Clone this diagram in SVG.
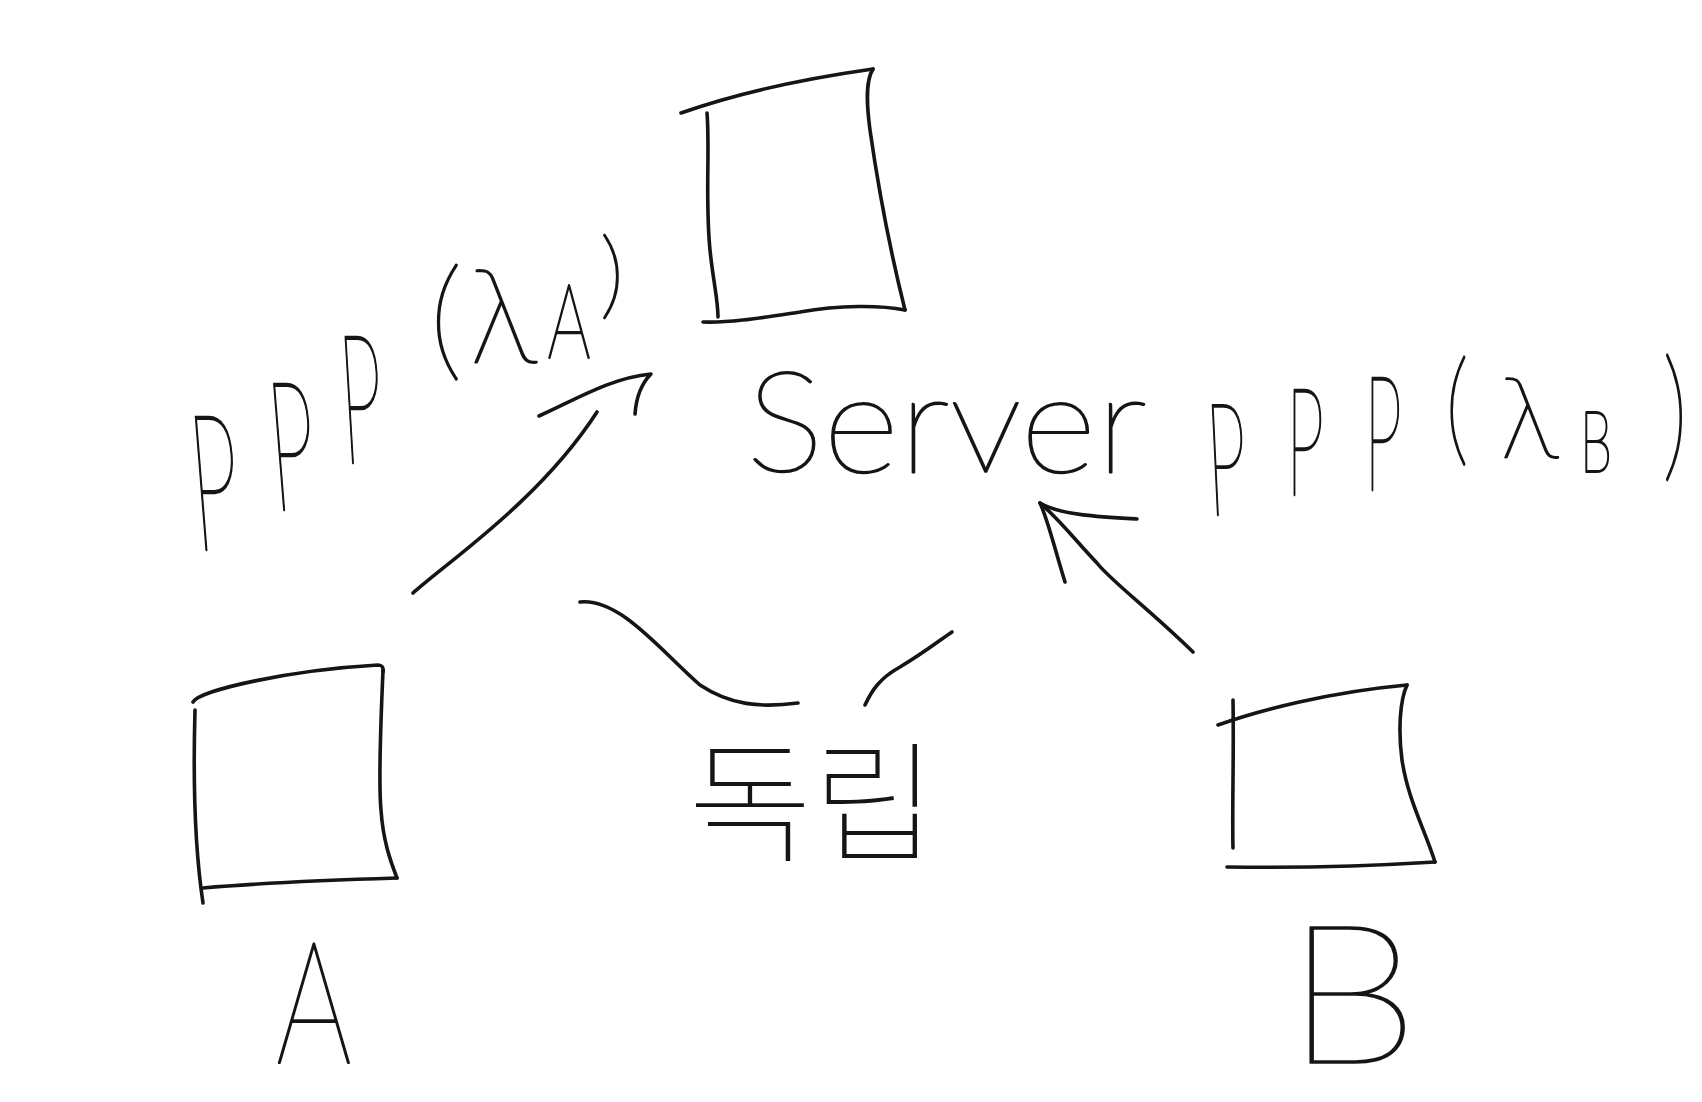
<svg xmlns="http://www.w3.org/2000/svg" width="1702" height="1102" viewBox="0 0 1702 1102">
<style>
.ink{fill:none;stroke:#151515;stroke-width:3.6;stroke-linecap:round;stroke-linejoin:round}
.hw{font-family:"Lato","Inter","Noto Sans",sans-serif;font-weight:100;fill:#151515;stroke:#151515;stroke-width:1.8;stroke-linejoin:round;vector-effect:non-scaling-stroke;text-anchor:middle}
.kr{font-family:"Noto Sans CJK KR","Noto Sans CJK SC",sans-serif;font-weight:100;fill:#151515}
</style>
<rect width="1702" height="1102" fill="#ffffff"/>

<g id="node-server">
  <path class="ink" d="M681,113 Q760,85 873,69"/>
  <path class="ink" d="M873,69 C866,80 866,100 870,130 C880,200 895,270 905,310"/>
  <path class="ink" d="M905,310 C880,305 840,305 800,312 C760,318 730,323 703,322"/>
  <path class="ink" d="M707,113 C710,150 705,200 710,250 C713,280 718,300 718,317"/>
  <text class="hw" x="746" y="472" font-size="140" textLength="401" lengthAdjust="spacingAndGlyphs" style="text-anchor:start">Server</text>
</g>

<g id="node-a">
  <path class="ink" d="M193,702 C200,690 290,670 378,665 Q384,665 383,672"/>
  <path class="ink" d="M383,670 C381,720 378,780 381,810 C383,840 390,860 397,878"/>
  <path class="ink" d="M397,878 C330,880 260,883 203,888"/>
  <path class="ink" d="M195,710 C193,780 195,850 203,903"/>
  <text class="hw" font-size="170" transform="translate(314,1063) scale(0.7,1)">A</text>
</g>

<g id="node-b">
  <path class="ink" d="M1218,725 C1260,710 1330,692 1407,685"/>
  <path class="ink" d="M1407,685 C1400,700 1398,730 1402,760 C1408,800 1425,830 1435,862"/>
  <path class="ink" d="M1435,862 C1370,866 1290,868 1227,867"/>
  <path class="ink" d="M1233,700 C1234,760 1232,810 1233,848"/>
  <text class="hw" font-size="195" transform="translate(1352,1063) scale(1.1,1)">B</text>
</g>

<g id="connectors">
  <g id="edge-a-server">
    <path class="ink" d="M413,593 C450,560 540,500 597,412"/>
    <path class="ink" d="M539,416 C575,400 610,378 651,374 C640,385 636,400 635,414"/>
    <g id="label-ppp-a">
      <text class="hw" font-size="190" transform="translate(220,550) scale(0.45,1) skewX(10)">P</text>
      <text class="hw" font-size="180" transform="translate(297,510) scale(0.45,1) skewX(10)">P</text>
      <text class="hw" font-size="180" transform="translate(365,463) scale(0.42,1) skewX(8)">P</text>
      <text class="hw" font-size="133" transform="translate(446,364)">(</text>
      <text class="hw" font-size="130" transform="translate(503,362)">λ</text>
      <text class="hw" font-size="104" transform="translate(569,358) scale(0.65,1)">A</text>
      <text class="hw" font-size="96" transform="translate(612,307)">)</text>
    </g>
  </g>
  <g id="edge-b-server">
    <path class="ink" d="M1193,652 C1150,610 1110,580 1097,563 C1075,540 1060,520 1040,503"/>
    <path class="ink" d="M1065,582 C1055,550 1048,520 1040,503 C1060,515 1100,517 1137,519"/>
    <g id="label-ppp-b">
      <text class="hw" font-size="157" transform="translate(1229,515) scale(0.45,1) skewX(6)">P</text>
      <text class="hw" font-size="150" transform="translate(1305,495) scale(0.45,1)">P</text>
      <text class="hw" font-size="160" transform="translate(1383,490) scale(0.42,1)">P</text>
      <text class="hw" font-size="124" transform="translate(1457,450) scale(0.75,1)">(</text>
      <text class="hw" font-size="112" transform="translate(1529,457)">λ</text>
      <text class="hw" font-size="86" transform="translate(1596,472) scale(0.6,1)">B</text>
      <text class="hw" font-size="144" transform="translate(1675,463) scale(0.7,1)">)</text>
    </g>
  </g>
  <g id="annotation-independent">
    <path class="ink" d="M580,602 C620,598 660,650 700,685 C730,705 760,708 798,703"/>
    <path class="ink" d="M865,705 C872,690 880,678 900,667 C925,652 940,640 952,632"/>
    <text class="kr" x="688" y="850" font-size="130" textLength="249" lengthAdjust="spacingAndGlyphs">독립</text>
  </g>
</g>
</svg>
